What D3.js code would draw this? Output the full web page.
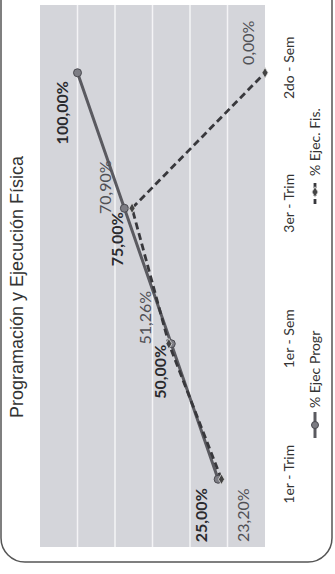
<!DOCTYPE html>
<html><head><meta charset="utf-8">
<script src="https://cdn.jsdelivr.net/npm/d3@7"></script>
<style>html,body{margin:0;padding:0;background:#fff;}svg{display:block;}</style>
</head><body>
<script>
const categories = ["1er - Trim", "1er - Sem", "3er - Trim", "2do - Sem"];
const progr = [0.25, 0.50, 0.75, 1.00];
const fis = [0.232, 0.5126, 0.709, 0.00];
const progrLabels = ["25,00%", "50,00%", "75,00%", "100,00%"];
const fisLabels = ["23,20%", "51,26%", "70,90%", "0,00%"];
const seriesNames = ["% Ejec Progr", "% Ejec. Fis."];
const title = "Programación y Ejecución Física";
// label offsets (rotated frame) [dx, dy]
const progrOff = [[-17, 36], [-11, 28], [-7, 31], [-15, 40]];
const fisOff = [[22, 36], [-23, -26], [-27, -21], [-17, -30]];

const W = 335, H = 574;
const svg = d3.select("body").append("svg").attr("width", W).attr("height", H);

// card border
svg.append("rect").attr("x", 1).attr("y", -40).attr("width", 331).attr("height", 602)
  .attr("rx", 24).attr("fill", "#fff").attr("stroke", "#555").attr("stroke-width", 1.5);

const plot = {left: 40, right: 265, top: 5, bottom: 547};
const y = d3.scaleBand().domain(categories).range([plot.bottom, plot.top]);
const x = d3.scaleLinear().domain([0, 1.2]).range([plot.right, plot.left]);

svg.append("rect").attr("x", plot.left).attr("y", plot.top)
  .attr("width", plot.right - plot.left).attr("height", plot.bottom - plot.top)
  .attr("fill", "#d4d5da");

svg.append("g").selectAll("line").data(x.ticks(6).filter(t => t > 0 && t < 1.2)).join("line")
  .attr("x1", d => x(d)).attr("x2", d => x(d))
  .attr("y1", plot.top).attr("y2", plot.bottom)
  .attr("stroke", "#f4f4f6").attr("stroke-width", 1.5);

const cy = c => y(c) + y.bandwidth() / 2;

// lines
const lineP = d3.line().x(d => x(d.v)).y(d => cy(d.c));
const dP = categories.map((c, i) => ({c, v: progr[i]}));
const dF = categories.map((c, i) => ({c, v: fis[i]}));
svg.append("path").attr("d", lineP(dP)).attr("fill", "none")
  .attr("stroke", "#5a5a60").attr("stroke-width", 3);
svg.append("path").attr("d", lineP(dF)).attr("fill", "none")
  .attr("stroke", "#38383c").attr("stroke-width", 2.8).attr("stroke-dasharray", "7,4");

// markers
svg.append("g").selectAll("circle").data(dP).join("circle")
  .attr("cx", d => x(d.v)).attr("cy", d => cy(d.c)).attr("r", 4)
  .attr("fill", "#7d7d84").attr("stroke", "#4a4a50").attr("stroke-width", 1);
const diamond = d3.symbol().type(d3.symbolDiamond).size(32);
svg.append("g").selectAll("path").data(dF).join("path")
  .attr("d", diamond)
  .attr("transform", d => `translate(${x(d.v)},${cy(d.c)})`)
  .attr("fill", "#444").attr("stroke", "#ddd").attr("stroke-width", 0.8);

// data labels
function rtext(g, tx, ty, txt) {
  return g.append("text").attr("transform", `translate(${tx},${ty}) rotate(-90)`).text(txt);
}
const lab = svg.append("g").attr("font-family", "Lato, 'Open Sans', sans-serif").attr("font-size", 16);
dP.forEach((d, i) => {
  rtext(lab, x(d.v) + progrOff[i][0] + 5.5, cy(d.c) + progrOff[i][1], progrLabels[i])
    .attr("text-anchor", "middle").attr("font-weight", "bold").attr("fill", "#2a2a2e");
});
dF.forEach((d, i) => {
  rtext(lab, x(d.v) + fisOff[i][0] + 5.5, cy(d.c) + fisOff[i][1], fisLabels[i])
    .attr("text-anchor", "middle").attr("fill", "#505055");
});

// category labels
const cat = svg.append("g").attr("font-family", "Lato, 'Open Sans', sans-serif").attr("font-size", 14).attr("fill", "#333");
categories.forEach(c => {
  rtext(cat, 294, cy(c) - 5, c).attr("text-anchor", "middle");
});

// title
rtext(svg, 23, 287, title).attr("text-anchor", "middle")
  .attr("font-family", "'Liberation Sans', Arial, sans-serif").attr("font-size", 18).attr("fill", "#333");

// legend
const leg = svg.append("g").attr("font-family", "Lato, 'Open Sans', sans-serif").attr("font-size", 14).attr("fill", "#333");
const lx = 315;
leg.append("line").attr("x1", lx).attr("x2", lx).attr("y1", 438).attr("y2", 412)
  .attr("stroke", "#5a5a60").attr("stroke-width", 3);
leg.append("circle").attr("cx", lx).attr("cy", 425).attr("r", 3.5)
  .attr("fill", "#7d7d84").attr("stroke", "#4a4a50");
rtext(leg, lx + 5, 408, seriesNames[0]).attr("text-anchor", "start");
leg.append("line").attr("x1", lx).attr("x2", lx).attr("y1", 204).attr("y2", 180)
  .attr("stroke", "#38383c").attr("stroke-width", 2.8).attr("stroke-dasharray", "5,3");
leg.append("path").attr("d", diamond).attr("transform", `translate(${lx},192)`)
  .attr("fill", "#444").attr("stroke", "#ddd").attr("stroke-width", 0.8);
rtext(leg, lx + 5, 176, seriesNames[1]).attr("text-anchor", "start");
</script>
</body></html>
